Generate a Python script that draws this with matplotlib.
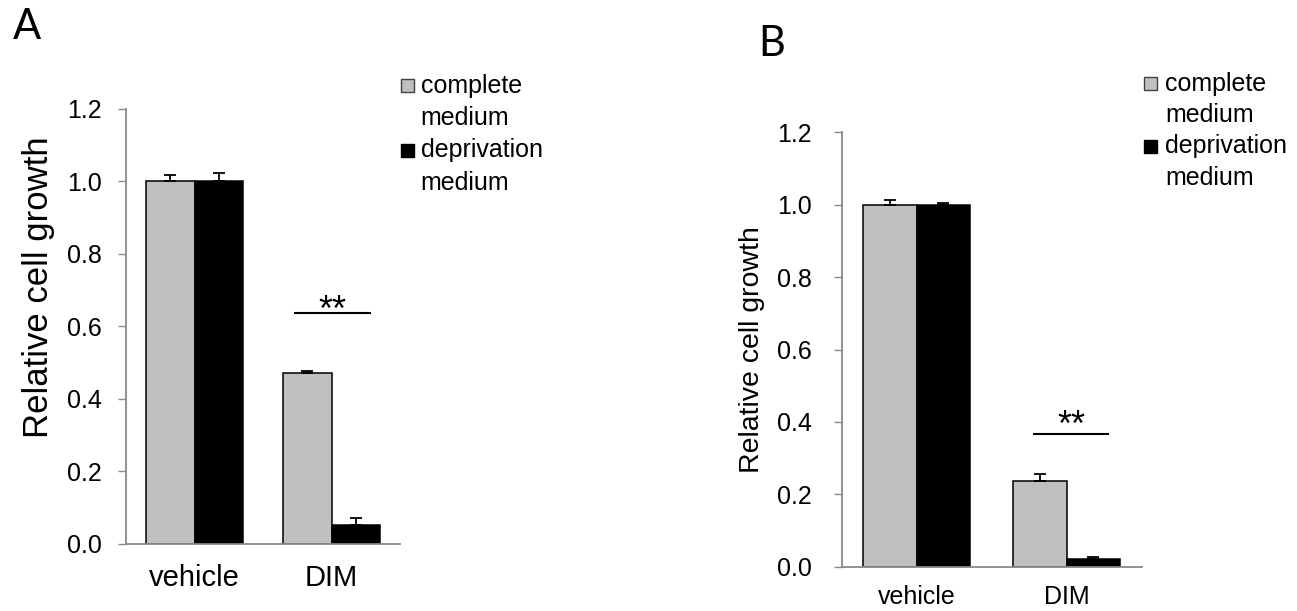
import matplotlib
matplotlib.use("Agg")
import matplotlib.pyplot as plt
from matplotlib.patches import Rectangle
import numpy as np

# ---------------- data ----------------
categories = ["vehicle", "DIM"]
series_labels = ["complete\nmedium", "deprivation\nmedium"]

A_complete = [1.000, 0.470]
A_complete_err = [0.017, 0.008]
A_depriv = [1.000, 0.052]
A_depriv_err = [0.023, 0.020]

B_complete = [1.000, 0.237]
B_complete_err = [0.013, 0.019]
B_depriv = [0.998, 0.021]
B_depriv_err = [0.008, 0.006]

yticks = [0.0, 0.2, 0.4, 0.6, 0.8, 1.0, 1.2]
sig_text = "**"

# ---------------- style ----------------
GRAY = "#C0C0C0"
BLACK = "#000000"
SPINE = "#888888"
FONT = "Liberation Sans"
W, H = 1297, 611
fig = plt.figure(figsize=(W / 100, H / 100), dpi=100)


def px(x0, y0, x1, y1):
    """pixel box -> figure fraction rect"""
    return [x0 / W, 1 - y1 / H, (x1 - x0) / W, (y1 - y0) / H]


def panel(rect, comp, comp_err, dep, dep_err, tick_fs, xl_fs, yl_fs, xpad, ypad,
          ylab_x, ylab_y, sig_y, sig_x0, sig_x1, star_x, star_y):
    ax = fig.add_axes(rect)
    x = np.arange(len(categories))
    w = 0.355
    ax.bar(x - w / 2, comp, w, color=GRAY, edgecolor=BLACK, linewidth=1.1, zorder=1)
    ax.bar(x + w / 2, dep, w, color=BLACK, edgecolor=BLACK, linewidth=1.1, zorder=1)
    ax.errorbar(x - w / 2, comp, yerr=[np.zeros(len(comp)), comp_err], fmt="none",
                ecolor=BLACK, elinewidth=1.3, capsize=4, capthick=1.3, zorder=2)
    ax.errorbar(x + w / 2, dep, yerr=[np.zeros(len(dep)), dep_err], fmt="none",
                ecolor=BLACK, elinewidth=1.3, capsize=4, capthick=1.3, zorder=2)
    ax.set_xlim(-0.5, len(categories) - 0.5)
    ax.set_ylim(0, 1.2)
    ax.set_yticks(yticks)
    ax.set_yticklabels([f"{v:.1f}" for v in yticks], fontsize=tick_fs, family=FONT)
    ax.set_xticks(x)
    ax.set_xticklabels(categories, fontsize=xl_fs, family=FONT)
    ax.tick_params(axis="x", length=0, pad=xpad)
    ax.tick_params(axis="y", length=6, width=1.0, color=SPINE, pad=ypad, direction="out")
    for s in ["top", "right"]:
        ax.spines[s].set_visible(False)
    for s in ["left", "bottom"]:
        ax.spines[s].set_color(SPINE)
        ax.spines[s].set_linewidth(1.3)
    ax.set_ylabel("Relative cell growth", fontsize=yl_fs, family=FONT)
    ax.yaxis.set_label_coords(ylab_x, ylab_y)
    # significance marker
    ax.plot([sig_x0, sig_x1], [sig_y, sig_y], color=BLACK, lw=1.5, solid_capstyle="butt")
    ax.text(star_x, star_y, sig_text, ha="center", va="baseline", fontsize=26, family=FONT)
    return ax


# Panel A
panel(px(126, 109, 400, 543.7), A_complete, A_complete_err, A_depriv, A_depriv_err,
      tick_fs=18, xl_fs=21, yl_fs=25, xpad=14.5, ypad=11.5,
      ylab_x=-0.26, ylab_y=0.59,
      sig_y=0.637, sig_x0=0.728, sig_x1=1.288, star_x=1.009, star_y=0.615)

# Panel B
panel(px(841.7, 132.3, 1141.7, 566.7), B_complete, B_complete_err, B_depriv, B_depriv_err,
      tick_fs=18, xl_fs=18, yl_fs=20.5, xpad=13, ypad=15.6,
      ylab_x=-0.255, ylab_y=0.5,
      sig_y=0.367, sig_x0=0.777, sig_x1=1.284, star_x=1.033, star_y=0.362)

# panel letters
fig.text(13 / W, 1 - 39 / H, "A", fontsize=30, family="Lato", ha="left", va="baseline")
fig.text(758 / W, 1 - 56 / H, "B", fontsize=30, family="Lato", ha="left", va="baseline")


# manual legends
def legend(sq_x, sq_y, sq, text_x, baselines, sq_y2):
    colors = [GRAY, BLACK]
    edges = ["#404040", BLACK]
    sq_tops = [sq_y, sq_y2]
    for i, lab in enumerate(series_labels):
        fig.patches.append(Rectangle((sq_x / W, 1 - (sq_tops[i] + sq) / H), sq / W, sq / H,
                                     transform=fig.transFigure, facecolor=colors[i],
                                     edgecolor=edges[i], linewidth=1.0))
        for j, line in enumerate(lab.split("\n")):
            fig.text(text_x / W, 1 - baselines[i * 2 + j] / H, line, fontsize=18,
                     family=FONT, ha="left", va="baseline")


legend(401, 79, 13, 420.5, [93, 125, 157.3, 189.5], 144)
legend(1144, 77.3, 13, 1165, [91, 121.5, 153, 185], 140)

fig.savefig("out.png", dpi=100)
